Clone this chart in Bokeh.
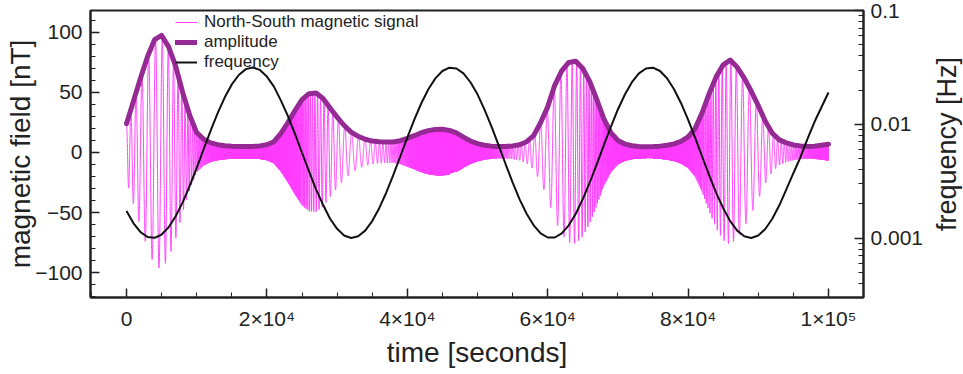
import math
import numpy as np
from bokeh.plotting import figure
from bokeh.layouts import row
from bokeh.core.properties import value
from bokeh.models import (Range1d, LinearAxis, LogAxis, LogScale, FixedTicker,
                          CustomJSTickFormatter, Legend, LegendItem)
from bokeh.embed import file_html
from bokeh.resources import INLINE

# ---------------- data ----------------
time_s = list(range(0, 100001, 1000))

amplitude_nT = [
    24, 43, 62, 80, 94, 97.5, 88, 72, 50, 31,
    16.5, 11, 8, 6.5, 5.7, 5.2, 5, 5, 5.1, 5.5,
    6.5, 9, 16, 25, 35, 44, 49, 49.5, 45, 37,
    29.5, 22.5, 17, 13.5, 11, 9.5, 9, 8.7, 8.7, 9.8,
    11.8, 14, 16.5, 18.2, 19.2, 19.3, 18.4, 16.3, 12.8, 9.6,
    7.4, 6, 5.3, 5, 5, 5.5, 6.5, 9, 14, 25,
    38, 56, 68, 75, 76, 70, 59, 44, 28, 16.5,
    10, 7, 5.6, 5, 4.8, 4.9, 5.3, 6, 7.2, 9.3,
    13, 20, 33, 49, 63, 73, 77, 71, 62, 51,
    39, 26, 16, 10.5, 8, 6.3, 5.5, 5.1, 5.3, 6,
    6.8,
]

frequency_hz = [
    0.001728, 0.001349, 0.001128, 0.001021, 0.001004, 0.001073, 0.001245, 0.001553, 0.002060, 0.002876,
    0.004147, 0.006069, 0.008845, 0.01262, 0.01728, 0.02243, 0.02716, 0.03058, 0.03161, 0.03009,
    0.02630, 0.02144, 0.01617, 0.01179, 0.008243, 0.005623, 0.003856, 0.002682, 0.001962, 0.001478,
    0.001205, 0.001053, 0.001000, 0.001035, 0.001162, 0.001410, 0.001830, 0.002503, 0.003574, 0.005210,
    0.007622, 0.01099, 0.01532, 0.02037, 0.02537, 0.02945, 0.03151, 0.03097, 0.02806, 0.02344,
    0.01834, 0.01348, 0.009530, 0.006554, 0.004476, 0.003090, 0.002186, 0.001636, 0.001294, 0.001099,
    0.001011, 0.001011, 0.001099, 0.001294, 0.001636, 0.002197, 0.003090, 0.004475, 0.006553, 0.009519,
    0.01350, 0.01830, 0.02347, 0.02803, 0.03098, 0.03150, 0.02945, 0.02541, 0.02037, 0.01534,
    0.01099, 0.007626, 0.005214, 0.003575, 0.002498, 0.001830, 0.001408, 0.001162, 0.001035, 0.001000,
    0.001052, 0.001201, 0.001478, 0.001941, 0.002683, 0.003715, 0.005129, 0.007413, 0.01047, 0.01413,
    0.01905,
]

x_ticks = [0, 20000, 40000, 60000, 80000, 100000]
x_tick_labels = ["0", "2×10⁴", "4×10⁴", "6×10⁴", "8×10⁴", "1×10⁵"]
y_ticks = [-100, -50, 0, 50, 100]
f_ticks = [0.001, 0.01, 0.1]
f_tick_labels = ["0.001", "0.01", "0.1"]

series_labels = ["North-South magnetic signal", "amplitude", "frequency"]
axis_titles = {"x": "time [seconds]", "y": "magnetic field [nT]", "y2": "frequency [Hz]"}

# ---- the N-S signal: carrier whose frequency and envelope are the series above ----
dt = 4.0
t_sig = np.arange(0, 100000 + dt, dt)
f_sig = 10 ** np.interp(t_sig, time_s, np.log10(frequency_hz))
phase = 2 * np.pi * np.cumsum(f_sig) * dt
signal = np.interp(t_sig, time_s, amplitude_nT) * np.cos(phase)

# ---------------- figure ----------------
PINK = "#ff3dff"
PURPLE = "#952a95"
INK = "#222222"
FONT = "Liberation Sans"

p = figure(width=930, height=374, output_backend="svg", toolbar_location=None,
           x_axis_type=None, y_axis_type=None,
           x_range=Range1d(-5130, 104990), y_range=Range1d(-120.8, 118.3),
           min_border_left=90, min_border_right=67, min_border_top=10, min_border_bottom=77)
p.extra_y_ranges = {"freq": Range1d(3.0e-4, 0.1002)}
p.extra_y_scales = {"freq": LogScale()}
p.outline_line_color = INK
p.outline_line_width = 2
p.background_fill_color = "white"
p.border_fill_color = "white"

r_sig = p.line(t_sig, signal, line_color=PINK, line_width=1)
r_amp = p.line(time_s, amplitude_nT, line_color=PURPLE, line_width=5,
               line_join="round", line_cap="round")
r_frq = p.line(time_s, frequency_hz, y_range_name="freq", line_color="#111111", line_width=2)

xaxis = LinearAxis(ticker=FixedTicker(ticks=x_ticks, minor_ticks=list(range(-5000, 105001, 5000))),
                   major_label_overrides=dict(zip(x_ticks, x_tick_labels)),
                   axis_label=axis_titles["x"])
yaxis = LinearAxis(ticker=FixedTicker(ticks=y_ticks, minor_ticks=list(range(-120, 121, 10))),
                   axis_label=axis_titles["y"])
minor_f = [k * 10.0 ** e for e in (-4, -3, -2) for k in range(2, 10)]
raxis = LogAxis(y_range_name="freq",
                ticker=FixedTicker(ticks=f_ticks, minor_ticks=minor_f),
                formatter=CustomJSTickFormatter(
                    args=dict(fvals=f_ticks, flabs=f_tick_labels),
                    code="const i = fvals.findIndex(v => Math.abs(v - tick) < 1e-6 * v); return i >= 0 ? flabs[i] : String(tick);"))

for ax in (xaxis, yaxis, raxis):
    ax.major_tick_in = 9
    ax.major_tick_out = 0
    ax.minor_tick_in = 5
    ax.minor_tick_out = 0
    ax.axis_line_width = 2
    ax.axis_line_color = INK
    ax.major_tick_line_width = 1.5
    ax.major_tick_line_color = INK
    ax.minor_tick_line_width = 1
    ax.minor_tick_line_color = INK
    ax.major_label_text_font = FONT
    ax.major_label_text_font_size = "21px"
    ax.major_label_text_color = INK
    ax.axis_label_text_font = FONT
    ax.axis_label_text_font_size = "28px"
    ax.axis_label_text_font_style = "normal"
    ax.axis_label_text_color = INK

xaxis.major_label_standoff = 9
xaxis.axis_label_standoff = 4
yaxis.major_label_standoff = 8
yaxis.axis_label_standoff = -4
raxis.major_label_standoff = 7

p.add_layout(xaxis, "below")
p.add_layout(yaxis, "left")
p.add_layout(raxis, "right")

legend = Legend(items=[LegendItem(label=series_labels[0], renderers=[r_sig]),
                       LegendItem(label=series_labels[1], renderers=[r_amp]),
                       LegendItem(label=series_labels[2], renderers=[r_frq])],
                location=(85, 225))
legend.background_fill_alpha = 0
legend.border_line_alpha = 0
legend.padding = 0
legend.margin = 0
legend.spacing = 0
legend.glyph_height = 18
legend.label_height = 18
legend.glyph_width = 22
legend.label_standoff = 7
legend.label_text_font = FONT
legend.label_text_font_size = "17px"
legend.label_text_color = INK
p.add_layout(legend)

# narrow strip on the right that carries the right-hand axis title (reads bottom to top)
p2 = figure(width=33, height=374, output_backend="svg", toolbar_location=None,
            x_axis_type=None, y_axis_type=None,
            x_range=Range1d(0, 33), y_range=Range1d(0, 374),
            min_border_left=0, min_border_right=0, min_border_top=0, min_border_bottom=0)
p2.outline_line_color = None
p2.background_fill_color = "white"
p2.border_fill_color = "white"
p2.text(x=[16.5], y=[200], text=[axis_titles["y2"]], angle=math.pi / 2,
        text_align="center", text_baseline="middle",
        text_font=value(FONT), text_font_size="27px", text_color=INK)

layout = row(p, p2, spacing=0)
open("out.html", "w").write(file_html(layout, INLINE))
